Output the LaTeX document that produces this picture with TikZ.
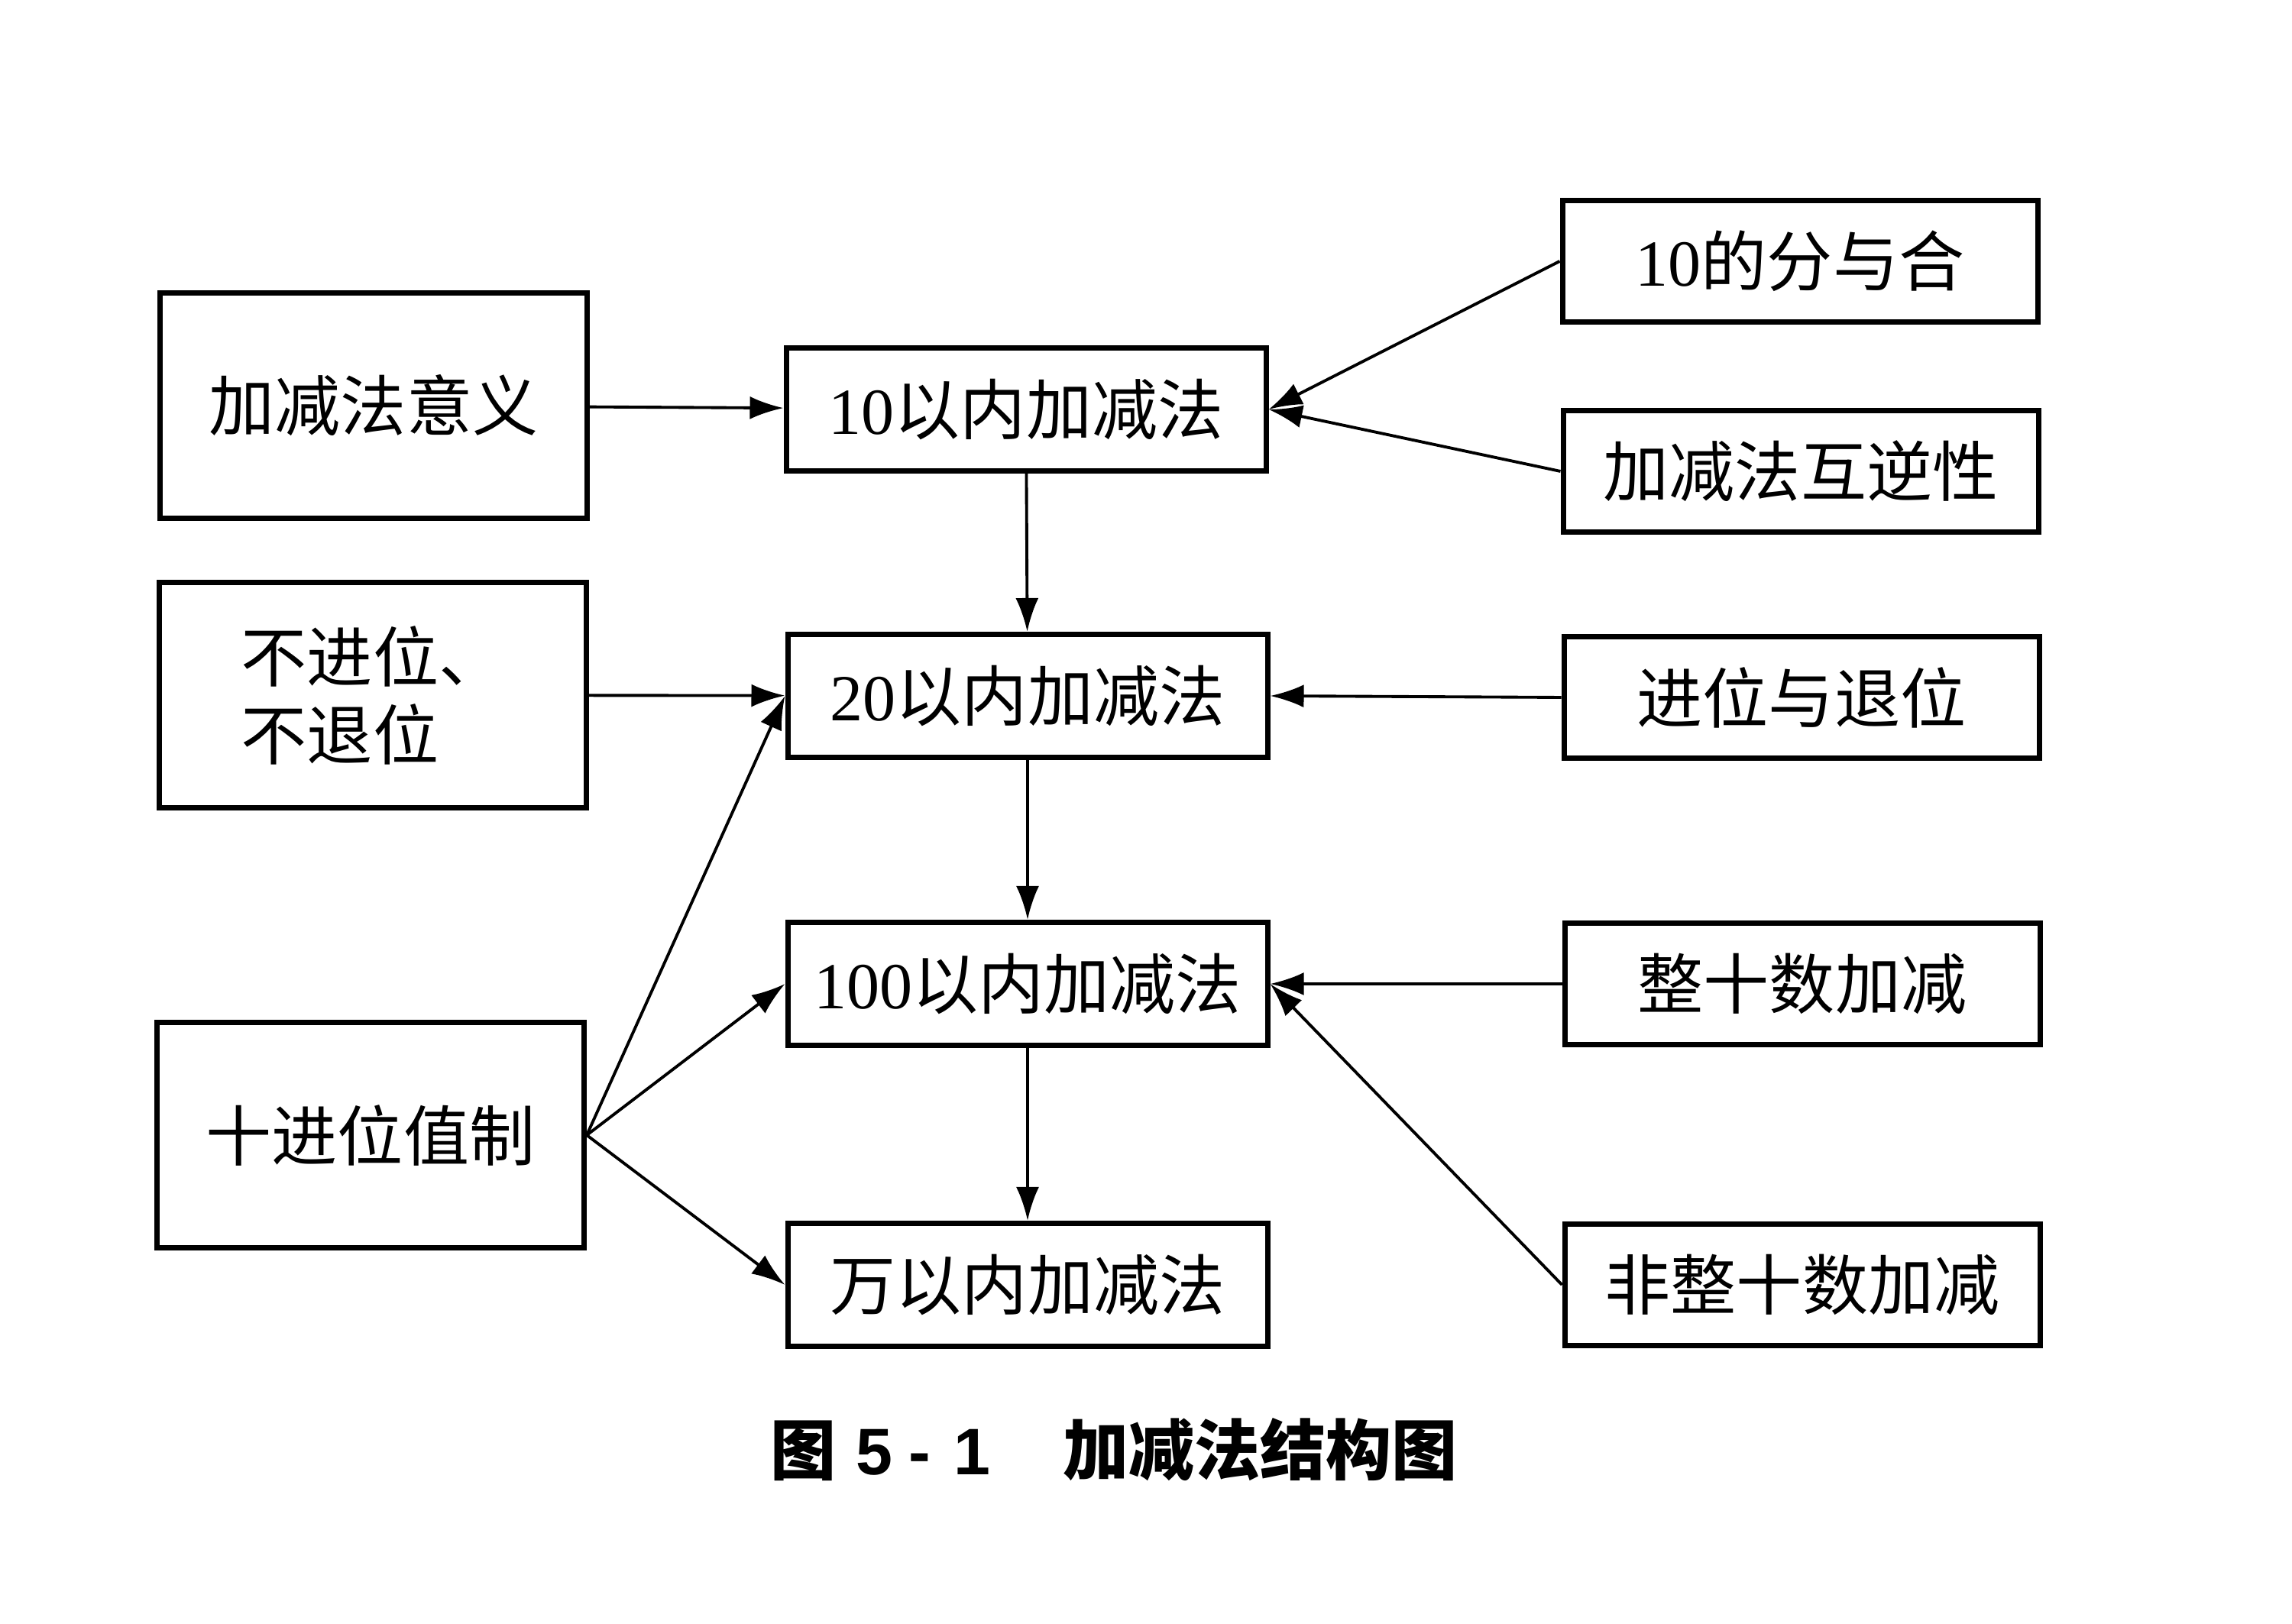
\documentclass[tikz,border=0pt]{standalone}
\usepackage{fontspec}
\setmainfont{Liberation Serif}
\setsansfont{Liberation Sans}
\newfontfamily\cjk{Noto Sans CJK SC}
\usetikzlibrary{arrows.meta}

\begin{document}
\begin{tikzpicture}[
  >={Latex[length=4.4mm,width=3mm]},
  every node/.style={font=\fontsize{24.5}{29}\selectfont},
  leftbox/.style={draw, line width=2pt, minimum width=5.59cm,
                  minimum height=2.95cm, align=left},
  midbox/.style={draw, line width=2pt, minimum width=6.28cm, minimum height=1.61cm},
  rightbox/.style={draw, line width=2pt, minimum width=6.22cm, minimum height=1.59cm},
  link/.style={->, line width=1.1pt}
]
  \useasboundingbox[fill=white] (0,0) rectangle (30,21.25);
  % left column
  \node[leftbox] (yiyi)   at (4.89,15.94) {\cjk 加减法意义};
  \node[leftbox] (bujin)  at (4.88,12.15) {\cjk 不进位、\\\cjk 不退位};
  \node[leftbox] (shijin) at (4.85,6.39)  {\cjk 十进位值制};
  % middle column
  \node[midbox] (b10)  at (13.43,15.89) {10\cjk 以内加减法};
  \node[midbox] (b20)  at (13.45,12.14) {20\cjk 以内加减法};
  \node[midbox] (b100) at (13.45,8.37)  {100\cjk 以内加减法};
  \node[midbox] (bwan) at (13.45,4.43)  {\cjk 万以内加减法};
  % right column
  \node[rightbox] (fenhe)    at (23.56,17.83) {10\cjk 的分与合};
  \node[rightbox] (huni)     at (23.57,15.08) {\cjk 加减法互逆性};
  \node[rightbox] (jintui)   at (23.58,12.12) {\cjk 进位与退位};
  \node[rightbox] (zhengshi) at (23.59,8.37)  {\cjk 整十数加减};
  \node[rightbox] (feizheng) at (23.59,4.43)  {\cjk 非整十数加减};
  % caption
  \node (cap) at (14.58,2.27) {{\cjk\bfseries 图}\hspace{0.3em}%
        {\sffamily\bfseries 5\hspace{0.25em}-\hspace{0.35em}1}\hspace{1.1em}%
        {\cjk\bfseries 加减法结构图}};

  \foreach \a/\b in {b10/b20, b20/b100, b100/bwan}
    \draw[link] (\a) -- (\b);
  \foreach \a/\b in {yiyi/b10, bujin/b20}
    \draw[link] (\a) -- (\b);
  \foreach \b in {b20, b100, bwan}
    \draw[link] (shijin.east) -- (\b.west);
  \foreach \a/\b in {fenhe/b10, huni/b10, jintui/b20, zhengshi/b100, feizheng/b100}
    \draw[link] (\a.west) -- (\b.east);
\end{tikzpicture}
\end{document}
